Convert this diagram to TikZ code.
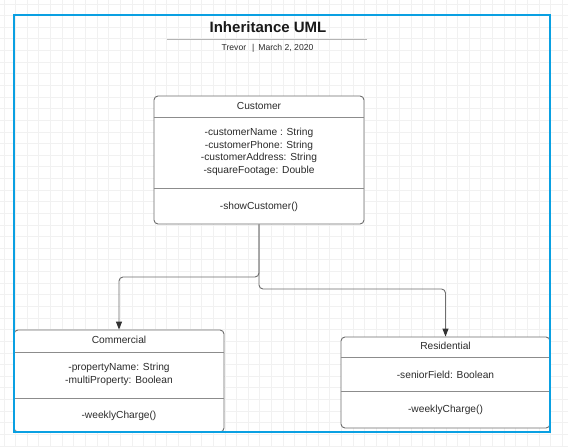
\documentclass[tikz,border=0pt]{standalone}
\usepackage{fontspec}
\setmainfont{Liberation Sans}
\usetikzlibrary{arrows.meta,calc}
\definecolor{framec}{HTML}{0AA0E2}
\definecolor{gridc}{HTML}{F1F1F1}
\definecolor{borderc}{HTML}{6E6E6E}
\definecolor{sepc}{HTML}{8C8C8C}
\definecolor{txtc}{HTML}{2B2B2B}
\definecolor{rulec}{HTML}{B4B4B4}
\definecolor{tipc}{HTML}{333333}
\tikzset{
  classbox/.style={draw=borderc, fill=white, line width=0.9pt, rounded corners=4pt, inner sep=0pt},
  sepline/.style={draw=sepc, line width=0.9pt},
  bodytxt/.style={text=txtc, font=\fontsize{10.2}{12.5}\selectfont, align=center, inner sep=0pt},
  conn/.style={draw=borderc, line width=0.9pt, rounded corners=4pt, -{Triangle[length=8pt,width=6pt,color=tipc]}},
  gridline/.style={draw=gridc, line width=0.8pt},
  frame/.style={draw=framec, line width=1.4pt}
}
\begin{document}
\begin{tikzpicture}[x=1pt,y=-1pt]
\useasboundingbox (0,0) rectangle (568,447);
\fill[white] (0,0) rectangle (568,447);
% grid
\foreach \i in {0,...,48} {
  \draw[gridline] ({4+11.63*\i},0) -- ({4+11.63*\i},447);
}
\foreach \j in {0,...,38} {
  \draw[gridline] (0,{4+11.63*\j}) -- (568,{4+11.63*\j});
}
% title
\node[text=black!90, font=\fontsize{15}{18}\selectfont\bfseries, inner sep=0pt] (title) at (268,27) {Inheritance UML};
\coordinate (rl) at (167,39.5);
\coordinate (rr) at (367,39.5);
\draw[draw=rulec, line width=1pt] (rl) -- (rr);
\node[text=txtc, font=\fontsize{8.6}{10}\selectfont, inner sep=0pt] (sub) at (267.5,48.5) {Trevor\hspace{6pt}|\hspace{4pt}March 2, 2020};
% boxes
\node[classbox, minimum width=210pt, minimum height=128pt] (cust) at (259,160) {};
\node[classbox, minimum width=210pt, minimum height=102pt] (comm) at (119,381) {};
\node[classbox, minimum width=209pt, minimum height=91pt] (res) at (445.5,382.5) {};
% separators
\draw[sepline] ($(cust.north west)+(0,22)$) -- ($(cust.north east)+(0,22)$);
\draw[sepline] ($(cust.north west)+(0,93)$) -- ($(cust.north east)+(0,93)$);
\draw[sepline] ($(comm.north west)+(0,23)$) -- ($(comm.north east)+(0,23)$);
\draw[sepline] ($(comm.north west)+(0,69)$) -- ($(comm.north east)+(0,69)$);
\draw[sepline] ($(res.north west)+(0,21)$) -- ($(res.north east)+(0,21)$);
\draw[sepline] ($(res.north west)+(0,55)$) -- ($(res.north east)+(0,55)$);
% texts
\node[bodytxt] (custname) at (259,106) {Customer};
\node[bodytxt] (custattr) at (259,152) {-customerName : String\\-customerPhone: String\\-customerAddress: String\\-squareFootage: Double};
\node[bodytxt] (custop) at (259,207) {-showCustomer()};
\node[bodytxt] (commname) at (119,340) {Commercial};
\node[bodytxt] (commattr) at (119,374.5) {-propertyName: String\\-multiProperty: Boolean};
\node[bodytxt] (commop) at (119,415.5) {-weeklyCharge()};
\node[bodytxt] (resname) at (445.5,346) {Residential};
\node[bodytxt] (resattr) at (445.5,374.5) {-seniorField: Boolean};
\node[bodytxt] (resop) at (445.5,410) {-weeklyCharge()};
% connectors
\coordinate (b1) at (0,277);
\coordinate (b2) at (0,289);
\draw[conn] (cust.south) -- (cust.south |- b1) -| (comm.north);
\draw[conn] (cust.south) -- (cust.south |- b2) -| (res.north);
% frame
\draw[frame] (14,15) rectangle (550,432);
\end{tikzpicture}
\end{document}
